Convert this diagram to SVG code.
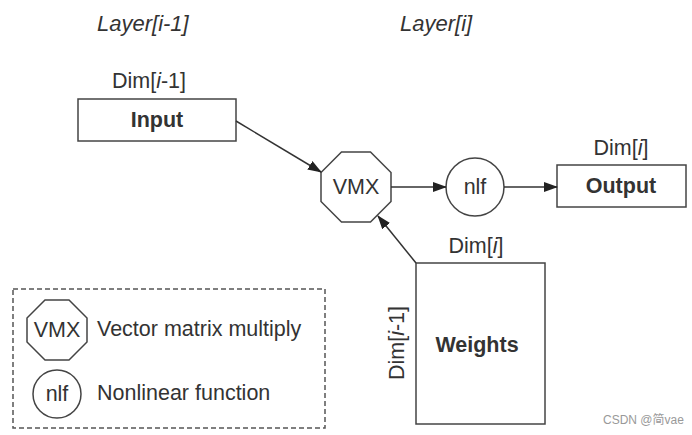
<svg xmlns="http://www.w3.org/2000/svg" width="692" height="435" viewBox="0 0 692 435">
<style>
text{font-family:"Liberation Sans",Arial,sans-serif;fill:#333;font-size:21.5px}
.t{font-style:italic;font-size:22px}
.b{font-weight:bold}
.shape{fill:#fff;stroke:#444;stroke-width:1.5}
.edge{stroke:#333;stroke-width:1.5;fill:none}
</style>
<defs>
<marker id="ah" markerUnits="userSpaceOnUse" markerWidth="14" markerHeight="10" refX="13" refY="5" orient="auto">
<path d="M0,0 L14,5 L0,10 Z" fill="#222"/>
</marker>
<polygon id="oct" points="-14.5,-35 14.5,-35 35,-14.5 35,14.5 14.5,35 -14.5,35 -35,14.5 -35,-14.5"/>
</defs>
<rect width="692" height="435" fill="#fff"/>
<text class="t" x="97" y="31">Layer[<tspan>i</tspan>-1]</text>
<text class="t" x="400" y="31">Layer[<tspan>i</tspan>]</text>
<g id="input">
<text x="149" y="88" text-anchor="middle">Dim[<tspan font-style="italic">i</tspan>-1]</text>
<rect class="shape" x="78" y="99" width="158" height="42"/>
<text class="b" x="157" y="127" text-anchor="middle">Input</text>
</g>
<g id="vmx">
<use href="#oct" x="356" y="187" class="shape"/>
<text x="356" y="194" text-anchor="middle">VMX</text>
</g>
<g id="nlf">
<circle class="shape" cx="475" cy="187" r="29"/>
<text x="475" y="194" text-anchor="middle">nlf</text>
</g>
<g id="output">
<text x="621" y="155" text-anchor="middle">Dim[<tspan font-style="italic">i</tspan>]</text>
<rect class="shape" x="557" y="165" width="129" height="42"/>
<text class="b" x="621" y="193" text-anchor="middle">Output</text>
</g>
<g id="weights">
<text x="476" y="253" text-anchor="middle">Dim[<tspan font-style="italic">i</tspan>]</text>
<text x="0" y="0" text-anchor="middle" transform="translate(404,343) rotate(-90)">Dim[<tspan font-style="italic">i</tspan>-1]</text>
<rect class="shape" x="416" y="263" width="129" height="161"/>
<text class="b" x="477" y="352" text-anchor="middle">Weights</text>
</g>
<g id="connectors">
<line class="edge" x1="236" y1="121" x2="321" y2="172" marker-end="url(#ah)"/>
<line class="edge" x1="391" y1="187" x2="446" y2="187" marker-end="url(#ah)"/>
<line class="edge" x1="504" y1="187" x2="557" y2="187" marker-end="url(#ah)"/>
<line class="edge" x1="416" y1="263" x2="378" y2="216" marker-end="url(#ah)"/>
</g>
<g id="legend">
<rect x="13" y="289" width="312" height="139" fill="none" stroke="#555" stroke-width="1.5" stroke-dasharray="5,3"/>
<polygon class="shape" points="45,300 69,300 87,318 87,342 69,360 45,360 27,342 27,318"/>
<text x="57" y="337" text-anchor="middle">VMX</text>
<text x="97" y="336">Vector matrix multiply</text>
<circle class="shape" cx="57" cy="394" r="24"/>
<text x="57" y="401" text-anchor="middle">nlf</text>
<text x="97" y="400">Nonlinear function</text>
</g>
<text x="603" y="424" style="font-size:12px;fill:#999;font-family:'Liberation Sans','Noto Sans CJK SC',sans-serif">CSDN @简vae</text>
</svg>
